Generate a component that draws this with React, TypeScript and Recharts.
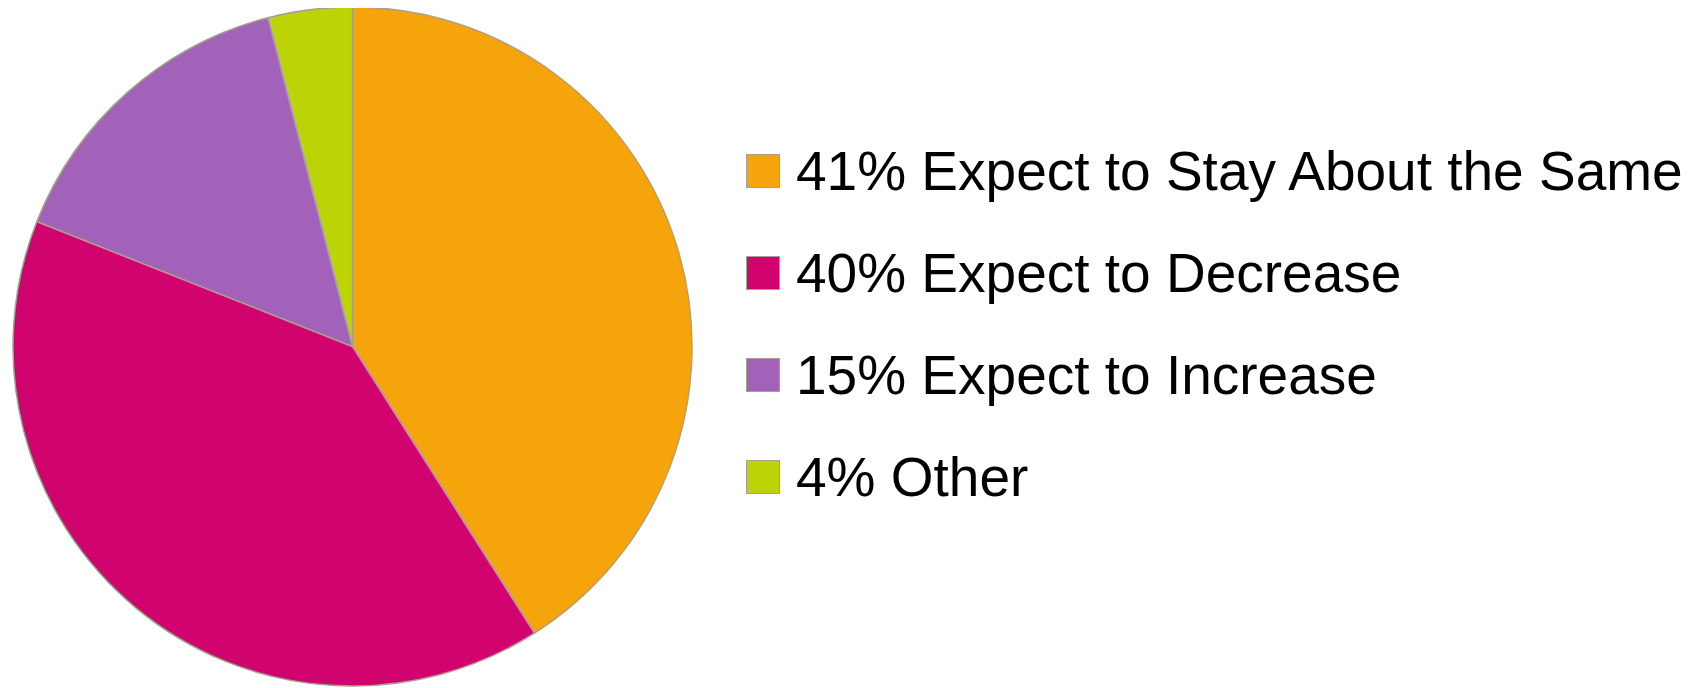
import React from "react";
import { PieChart, Pie, Cell, Legend } from "recharts";

const categories = [
  "41% Expect to Stay About the Same",
  "40% Expect to Decrease",
  "15% Expect to Increase",
  "4% Other",
];
const values = [41, 40, 15, 4];
const colors = ["#F5A40C", "#D1036F", "#A262BA", "#BCD407"];

const data = categories.map((name, i) => ({ name, value: values[i] }));

const renderLegend = () => (
  <div style={{ fontFamily: '"Liberation Sans", Arial, sans-serif' }}>
    {categories.map((name, i) => (
      <div
        key={name}
        style={{
          display: "flex",
          alignItems: "center",
          height: 102,
          fontSize: 55,
          color: "#000",
          whiteSpace: "nowrap",
        }}
      >
        <span
          style={{
            display: "inline-block",
            width: 32,
            height: 32,
            background: colors[i],
            border: "1.5px solid #a79f91",
            marginRight: 16,
            flexShrink: 0,
          }}
        />
        <span>{name}</span>
      </div>
    ))}
  </div>
);

export default function App() {
  return (
    <PieChart width={1680} height={680} margin={{ top: 0, right: 0, bottom: 0, left: 0 }}>
      <Pie
        data={data}
        dataKey="value"
        nameKey="name"
        cx={344.5}
        cy={338.5}
        outerRadius={339.5}
        startAngle={90}
        endAngle={-270}
        stroke="#a79f91"
        strokeWidth={1.5}
        isAnimationActive={false}
      >
        {data.map((d, i) => (
          <Cell key={d.name} fill={colors[i]} />
        ))}
      </Pie>
      <Legend
        content={renderLegend}
        wrapperStyle={{ position: "absolute", left: 738, top: 112, width: "auto" }}
      />
    </PieChart>
  );
}
